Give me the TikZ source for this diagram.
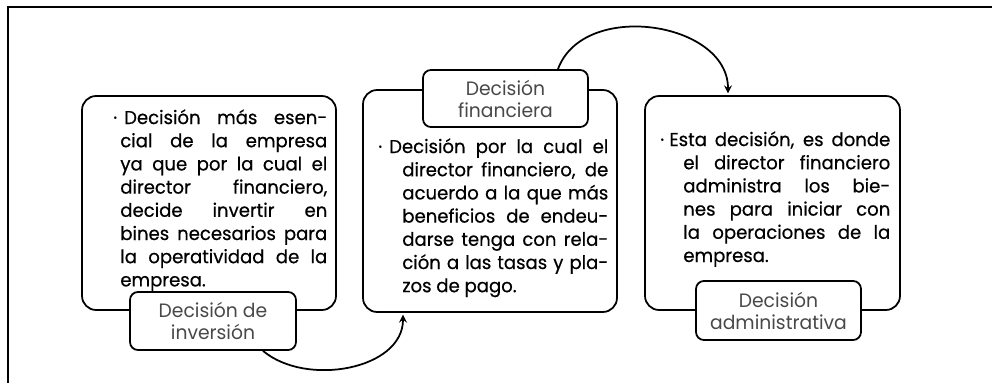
\documentclass[tikz,border=0pt]{standalone}
\usepackage{fontspec}
\setmainfont{Poppins}[FakeStretch=0.97]
\newfontfamily\cuerpo{Poppins}[FakeStretch=0.97,FakeBold=0.5]
\definecolor{labelgray}{RGB}{72,72,72}
\newcommand{\linea}[1]{\makebox[\hsize][s]{#1}\\}

\begin{document}
\begin{tikzpicture}[x=0.02cm,y=-0.02cm,>=stealth,shorten >=1pt,
    frame/.style={draw,line width=1pt,rounded corners=8pt,fill=white},
    tag/.style={draw,line width=1pt,rounded corners=4.5pt,fill=white,align=center,
      text=labelgray,font=\fontsize{11}{12.5}\selectfont},
    txt/.style={anchor=north west,inner sep=0pt,text width=4.14cm,align=justify,
      font=\cuerpo\fontsize{10.6}{13.2}\selectfont}]
  \useasboundingbox (0,0) rectangle (992,385);
  \draw[line width=1pt] (992,7) -| (8,385);

  % cajas
  \node[frame,minimum width=5.08cm,minimum height=4.28cm] (inv) at (209,203) {};
  \node[frame,minimum width=5.08cm,minimum height=4.44cm] (fin) at (490,201) {};
  \node[frame,minimum width=5.1cm,minimum height=4.28cm] (adm) at (772.5,203) {};

  % textos
  \node[txt] (tinv) at (120,109) {\linea{\hspace*{-0.14cm}·\hspace{4pt}Decisión más esen-}\linea{cial de la empresa}\linea{ya que por la cual el}\linea{director financiero,}\linea{decide invertir en}\linea{bines necesarios para}\linea{la operatividad de la}empresa.};
  \node[txt,text width=4.12cm] (tfin) at (402,138) {\linea{\hspace*{-0.48cm}·\hspace{4pt}Decisión por la cual el}\linea{director financiero, de}\linea{acuerdo a la que más}\linea{beneficios de endeu-}\linea{darse tenga con rela-}\linea{ción a las tasas y pla-}zos de pago.};
  \node[txt] (tadm) at (683,131) {\linea{\hspace*{-0.46cm}·\hspace{3pt}Esta decisión, es donde}\linea{el director financiero}\linea{administra los bie-}\linea{nes para iniciar con}\linea{la operaciones de la}empresa.};

  % etiquetas
  \node[tag,minimum width=3.32cm,minimum height=1.16cm] (linv) at (213,321) {Decisión de\\inversión};
  \node[tag,minimum width=3.3cm,minimum height=1.14cm] (lfin) at (505.5,98.5) {Decisión\\financiera};
  \node[tag,minimum width=3.3cm,minimum height=1.18cm] (ladm) at (778.5,310.5) {Decisión\\administrativa};

  \draw[->,line width=1pt] ([xshift=1cm]linv.south) to[out=-40,in=-90] ([xshift=-1.74cm]fin.south);
  \draw[->,line width=1pt] ([xshift=1.05cm]lfin.north) to[out=70,in=90,looseness=1.1] ([xshift=-0.89cm]adm.north);
\end{tikzpicture}
\end{document}
